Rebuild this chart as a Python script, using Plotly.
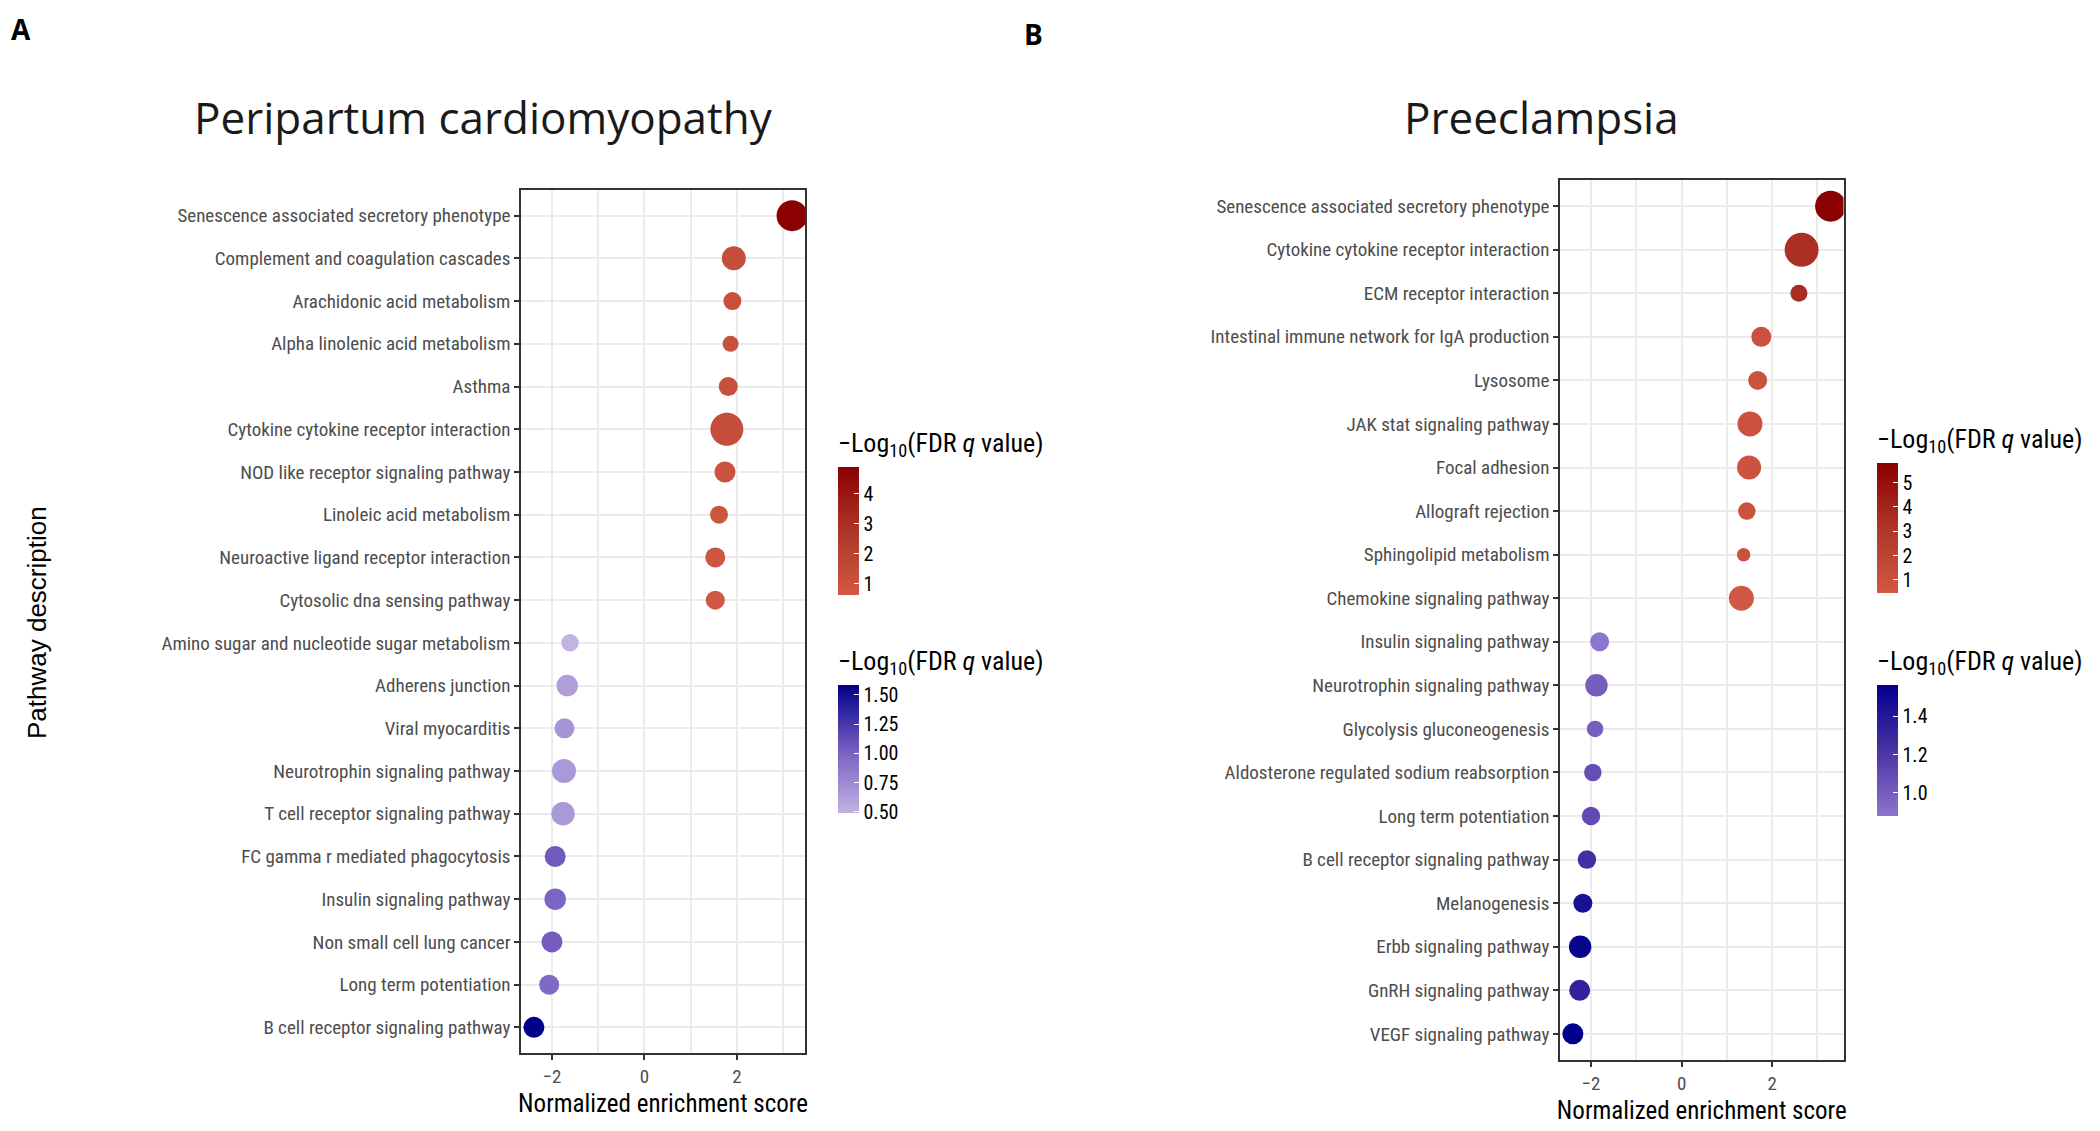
import plotly.graph_objects as go

W, H = 2100, 1131
OFF = 8  # the page body adds an 8px margin around the figure

# Panel A - Peripartum cardiomyopathy
a_path = ["Senescence associated secretory phenotype", "Complement and coagulation cascades",
          "Arachidonic acid metabolism", "Alpha linolenic acid metabolism", "Asthma",
          "Cytokine cytokine receptor interaction", "NOD like receptor signaling pathway",
          "Linoleic acid metabolism", "Neuroactive ligand receptor interaction",
          "Cytosolic dna sensing pathway", "Amino sugar and nucleotide sugar metabolism",
          "Adherens junction", "Viral myocarditis", "Neurotrophin signaling pathway",
          "T cell receptor signaling pathway", "FC gamma r mediated phagocytosis",
          "Insulin signaling pathway", "Non small cell lung cancer", "Long term potentiation",
          "B cell receptor signaling pathway"]
a_nes = [3.19, 1.93, 1.90, 1.86, 1.81, 1.78, 1.74, 1.61, 1.53, 1.53,
         -1.61, -1.67, -1.73, -1.74, -1.76, -1.93, -1.93, -2.00, -2.06, -2.39]
a_logq = [4.88, 1.3, 1.2, 1.1, 1.1, 1.3, 1.0, 0.9, 0.8, 0.63,
          0.49, 0.62, 0.68, 0.66, 0.66, 1.05, 0.98, 1.03, 0.96, 1.58]
a_size = [31, 24, 18, 16, 19, 33, 21, 18, 20, 19,
          17.5, 21.5, 20, 24, 23.5, 21, 21.5, 21, 20, 21]

# Panel B - Preeclampsia
b_path = ["Senescence associated secretory phenotype", "Cytokine cytokine receptor interaction",
          "ECM receptor interaction", "Intestinal immune network for IgA production",
          "Lysosome", "JAK stat signaling pathway", "Focal adhesion", "Allograft rejection",
          "Sphingolipid metabolism", "Chemokine signaling pathway", "Insulin signaling pathway",
          "Neurotrophin signaling pathway", "Glycolysis gluconeogenesis",
          "Aldosterone regulated sodium reabsorption", "Long term potentiation",
          "B cell receptor signaling pathway", "Melanogenesis", "Erbb signaling pathway",
          "GnRH signaling pathway", "VEGF signaling pathway"]
b_nes = [3.29, 2.65, 2.59, 1.76, 1.68, 1.51, 1.49, 1.44, 1.37, 1.32,
         -1.81, -1.88, -1.91, -1.96, -2.00, -2.09, -2.18, -2.24, -2.25, -2.40]
b_logq = [5.79, 3.4, 3.6, 1.0, 0.95, 0.9, 0.85, 0.9, 1.0, 0.46,
          0.88, 1.0, 1.0, 1.08, 1.1, 1.25, 1.45, 1.52, 1.33, 1.56]
b_size = [31, 34, 17, 20, 19, 25, 24, 17.5, 13.5, 25,
          19, 22.5, 16.5, 17.5, 18.5, 18.5, 19, 22.5, 21, 21]

NARROW = "Roboto Condensed, Liberation Sans Narrow, DejaVu Sans Condensed, sans-serif"
LEG_TITLE = "\u2212Log<sub>10</sub>(FDR <i>q</i> value)"
TITLE_H = 40

RED = [[0, "#d05844"], [0.5, "#ae3627"], [1, "#8b0000"]]
BLUE_A = [[0, "#c1b4e1"], [0.47, "#7a62c2"], [1, "#00008b"]]
BLUE_B = [[0, "#8c75cc"], [0.5, "#4a33a3"], [1, "#00008b"]]


def px(v):
    return (v - OFF) / W


def py(v):
    return 1 - (v - OFF) / H


def cbar(x, top, bot, tickvals, fmt):
    return dict(
        x=px(x), xanchor="left", y=py(bot), yanchor="bottom",
        len=bot - top + TITLE_H, lenmode="pixels", thickness=21, thicknessmode="pixels",
        xpad=0, ypad=0, outlinewidth=0, ticks="inside", ticklen=5, tickcolor="white",
        tickvals=tickvals, tickformat=fmt, tickprefix="\u00a0\u00a0",
        tickfont=dict(family=NARROW, size=20, color="black"),
        title=dict(text=LEG_TITLE, side="top", font=dict(family=NARROW, size=26, color="black")),
    )


fig = go.Figure()


def add_panel(paths, nes, logq, size, xa, ya, ca_pos, ca_neg):
    for sel, ca in ((lambda v: v > 0, ca_pos), (lambda v: v < 0, ca_neg)):
        idx = [i for i, v in enumerate(nes) if sel(v)]
        fig.add_trace(go.Scatter(
            x=[nes[i] for i in idx], y=[paths[i] for i in idx],
            mode="markers", xaxis=xa, yaxis=ya, showlegend=False,
            marker=dict(size=[size[i] for i in idx], color=[logq[i] for i in idx],
                        coloraxis=ca, line=dict(width=0), opacity=1),
        ))


add_panel(a_path, a_nes, a_logq, a_size, "x", "y", "coloraxis", "coloraxis2")
add_panel(b_path, b_nes, b_logq, b_size, "x2", "y2", "coloraxis3", "coloraxis4")


def xrange(vals):
    lo, hi = min(vals), max(vals)
    pad = 0.05 * (hi - lo)
    return [lo - pad, hi + pad]


def xaxis(dom, vals):
    return dict(
        domain=[px(dom[0]), px(dom[1])], range=xrange(vals),
        tickvals=[-2, 0, 2], ticktext=["\u22122", "0", "2"],
        showgrid=True, gridcolor="#ebebeb", gridwidth=2,
        minor=dict(dtick=1, tick0=0, showgrid=True, gridcolor="#ebebeb", gridwidth=1.5, ticks=""),
        zeroline=False, showline=True, linecolor="#333333", linewidth=1.5, mirror=True,
        ticks="outside", ticklen=5, tickcolor="#333333", tickwidth=1.5,
        tickfont=dict(family=NARROW, size=19, color="#4d4d4d"),
        title=dict(text="Normalized enrichment score", standoff=8,
                   font=dict(family=NARROW, size=25, color="black")),
    )


def yaxis(top, bot, cats, anchor):
    return dict(
        domain=[py(bot), py(top)], type="category", categoryarray=cats,
        range=[len(cats) - 1 + 0.6, -0.6], anchor=anchor,
        showgrid=True, gridcolor="#ebebeb", gridwidth=2, zeroline=False,
        showline=True, linecolor="#333333", linewidth=1.5, mirror=True,
        ticks="outside", ticklen=5, tickcolor="#333333", tickwidth=1.5,
        tickfont=dict(family=NARROW, size=19, color="#4d4d4d"),
    )


fig.update_layout(
    width=W, height=H, margin=dict(l=0, r=0, t=0, b=0),
    paper_bgcolor="white", plot_bgcolor="white",
    xaxis=dict(xaxis((521, 805), a_nes), anchor="y"),
    yaxis=yaxis(190, 1053, a_path, "x"),
    xaxis2=dict(xaxis((1560, 1843.5), b_nes), anchor="y2"),
    yaxis2=yaxis(180, 1060, b_path, "x2"),
    coloraxis=dict(colorscale=RED, cmin=min(a_logq[:10]), cmax=max(a_logq[:10]),
                   colorbar=cbar(838, 469, 595, [1, 2, 3, 4], "d")),
    coloraxis2=dict(colorscale=BLUE_A, cmin=min(a_logq[10:]), cmax=max(a_logq[10:]),
                    colorbar=cbar(838, 687, 813, [0.5, 0.75, 1.0, 1.25, 1.5], ".2f")),
    coloraxis3=dict(colorscale=RED, cmin=min(b_logq[:10]), cmax=max(b_logq[:10]),
                    colorbar=cbar(1877, 465, 593, [1, 2, 3, 4, 5], "d")),
    coloraxis4=dict(colorscale=BLUE_B, cmin=min(b_logq[10:]), cmax=max(b_logq[10:]),
                    colorbar=cbar(1877, 687, 816, [1.0, 1.2, 1.4], ".1f")),
)

annotations = [
    dict(text="A", x=px(21), y=py(8), yanchor="top",
         font=dict(family="Open Sans", size=28, color="black", weight="bold")),
    dict(text="B", x=px(1033), y=py(13), yanchor="top",
         font=dict(family="Open Sans", size=28, color="black", weight="bold")),
    dict(text="Peripartum cardiomyopathy", x=px(483), y=py(117),
         font=dict(family="Open Sans", size=44, color="#1a1a1a")),
    dict(text="Preeclampsia", x=px(1541), y=py(117),
         font=dict(family="Open Sans", size=44, color="#1a1a1a")),
    dict(text="Pathway description", x=px(37), y=py(623), textangle=-90,
         font=dict(family="Liberation Sans", size=26, color="black")),
]
for a in annotations:
    a.setdefault("yanchor", "middle")
    a.update(xref="paper", yref="paper", showarrow=False, xanchor="center")
fig.update_layout(annotations=annotations)

fig.write_html("out.html")
